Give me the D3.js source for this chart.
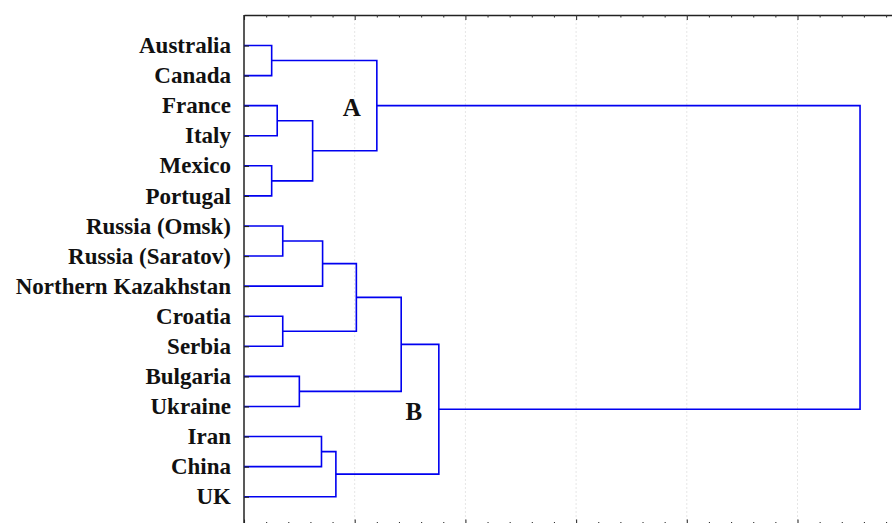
<!DOCTYPE html>
<html>
<head>
<meta charset="utf-8">
<script src="https://cdn.jsdelivr.net/npm/d3@7"></script>
<style>
  html, body { margin: 0; padding: 0; background: #fff; }
  svg { display: block; }
</style>
</head>
<body>
<svg id="chart" width="892" height="523"></svg>
<script>
// ---- data ----
const leaves = ["Australia", "Canada", "France", "Italy", "Mexico", "Portugal",
  "Russia (Omsk)", "Russia (Saratov)", "Northern Kazakhstan", "Croatia", "Serbia",
  "Bulgaria", "Ukraine", "Iran", "China", "UK"];
// linkage: node ids 0..15 are leaves, merge i creates node 16+i
const mergeLeft   = [0, 2, 4, 17, 16, 6, 21, 9, 22, 11, 24, 13, 27, 26, 20];
const mergeRight  = [1, 3, 5, 18, 19, 7, 8, 10, 23, 12, 25, 14, 15, 28, 29];
const mergeHeight = [0.25, 0.30, 0.25, 0.62, 1.20, 0.35, 0.71, 0.35, 1.015, 0.50, 1.42, 0.70, 0.83, 1.76, 5.565];
const clusterNames = ["A", "B"];
const clusterNodes = [20, 29];
const axisTicks = [0, 1, 2, 3, 4, 5, 6];
const minorTicks = d3.range(0, 6.01, 0.2).map(v => +v.toFixed(1)).filter(v => !axisTicks.includes(v));

// ---- layout ----
const svg = d3.select("#chart");
const plotLeft = 244, plotTop = 15, plotBottom = 525.5;
const x = d3.scaleLinear().domain([0, 6]).range([plotLeft, plotLeft + 6 * 110.7]);
const y = d3.scalePoint().domain(leaves).range([45.5, 496.7]);

// gridlines
svg.append("g").selectAll("line").data(axisTicks.slice(1)).join("line")
  .attr("x1", d => x(d)).attr("x2", d => x(d))
  .attr("y1", plotTop).attr("y2", plotBottom)
  .attr("stroke", "#e6e6e6").attr("stroke-width", 1).attr("stroke-dasharray", "2,2");

// top axis (ticks pointing inward)
const topG = svg.append("g").attr("transform", `translate(0,${plotTop})`);
topG.call(d3.axisBottom(x).tickValues(axisTicks).tickSize(5).tickSizeOuter(0).tickFormat(""));
topG.append("g").call(d3.axisBottom(x).tickValues(minorTicks).tickSize(2.5).tickSizeOuter(0).tickFormat(""))
  .select(".domain").remove();
// bottom axis
const botG = svg.append("g").attr("transform", `translate(0,${plotBottom})`);
botG.call(d3.axisTop(x).tickValues(axisTicks).tickSize(6).tickSizeOuter(0).tickFormat(""));
botG.append("g").call(d3.axisTop(x).tickValues(minorTicks).tickSize(3.5).tickSizeOuter(0).tickFormat(""))
  .select(".domain").remove();
svg.selectAll(".domain").attr("stroke", "#222").attr("stroke-width", 1.5);
svg.selectAll(".tick line").attr("stroke", "#333").attr("stroke-width", 1.1);

// left axis line
svg.append("line").attr("x1", plotLeft).attr("x2", plotLeft).attr("y1", plotTop).attr("y2", plotBottom)
  .attr("stroke", "#222").attr("stroke-width", 1.5);

// node positions
const nodes = leaves.map(name => ({ h: 0, y: y(name) }));
mergeLeft.forEach((l, i) => {
  const r = mergeRight[i];
  nodes.push({ h: mergeHeight[i], y: (nodes[l].y + nodes[r].y) / 2, l, r });
});

// links
const links = nodes.filter(n => n.l !== undefined);
svg.append("g").selectAll("path").data(links).join("path")
  .attr("d", n => {
    const a = nodes[n.l], b = nodes[n.r];
    return `M${x(a.h)},${a.y}H${x(n.h)}V${b.y}H${x(b.h)}`;
  })
  .attr("fill", "none").attr("stroke", "#0000f0").attr("stroke-width", 1.6);

// leaf axis (ticks inward)
const yG = svg.append("g").attr("transform", `translate(${plotLeft},0)`)
  .call(d3.axisLeft(y).tickSizeInner(-5).tickSizeOuter(0).tickPadding(13));
yG.select(".domain").remove();
yG.selectAll(".tick line").attr("stroke", "#222").attr("stroke-width", 1.2);
yG.selectAll(".tick text")
  .attr("font-family", "'Liberation Serif', 'Times New Roman', serif")
  .attr("font-weight", "bold").attr("font-size", 23).attr("fill", "#111")
  .attr("dy", "0.31em");

// cluster labels
svg.append("g").selectAll("text").data(clusterNames).join("text")
  .attr("x", (d, i) => x(nodes[clusterNodes[i]].h) - 25)
  .attr("y", (d, i) => nodes[clusterNodes[i]].y + 10.5)
  .attr("text-anchor", "middle")
  .attr("font-family", "'Liberation Serif', 'Times New Roman', serif")
  .attr("font-weight", "bold").attr("font-size", 25).attr("fill", "#111")
  .text(d => d);
</script>
</body>
</html>
